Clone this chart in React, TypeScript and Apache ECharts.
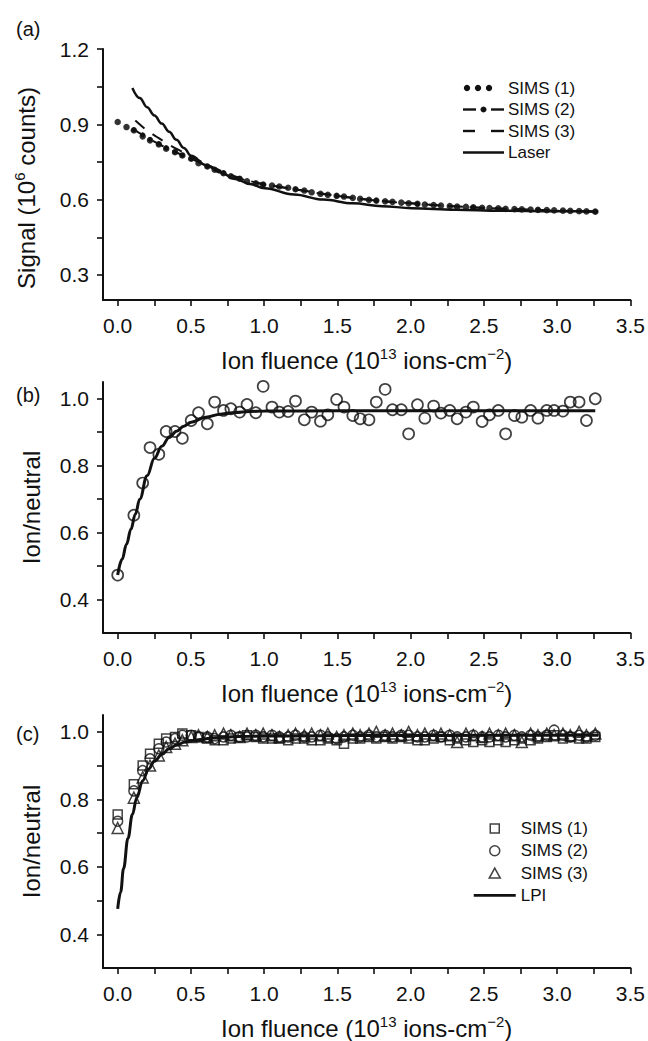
import React, { useEffect, useRef } from 'react';
import * as echarts from 'echarts';

const FONT = "'Liberation Sans', Arial, Helvetica, sans-serif";
const INK = '#111111';

// ---------- Panel (a) ----------
const fluenceA = [0.00, 0.06, 0.11, 0.17, 0.22, 0.28, 0.33, 0.39, 0.44, 0.50,
  0.55, 0.61, 0.66, 0.72, 0.77, 0.83, 0.88, 0.94, 0.99, 1.05,
  1.10, 1.16, 1.21, 1.27, 1.32, 1.38, 1.43, 1.49, 1.54, 1.60,
  1.65, 1.71, 1.76, 1.82, 1.87, 1.93, 1.98, 2.04, 2.09, 2.15,
  2.20, 2.26, 2.31, 2.37, 2.42, 2.48, 2.53, 2.59, 2.64, 2.70,
  2.75, 2.81, 2.86, 2.92, 2.97, 3.03, 3.08, 3.14, 3.19, 3.25];
const sims1A = [0.909, 0.889, 0.876, 0.852, 0.836, 0.820, 0.803, 0.789, 0.776, 0.763,
  0.745, 0.732, 0.719, 0.705, 0.693, 0.683, 0.673, 0.665, 0.660, 0.656,
  0.652, 0.647, 0.641, 0.636, 0.629, 0.623, 0.619, 0.615, 0.612, 0.607,
  0.603, 0.599, 0.596, 0.593, 0.591, 0.588, 0.585, 0.583, 0.580, 0.578,
  0.576, 0.574, 0.572, 0.571, 0.569, 0.567, 0.566, 0.565, 0.563, 0.562,
  0.561, 0.560, 0.559, 0.558, 0.557, 0.556, 0.555, 0.554, 0.553, 0.552];
const sims2AX = [0.11, 0.17, 0.22, 0.28, 0.33, 0.39, 0.44, 0.50, 0.61, 0.72, 0.83, 0.99, 1.21, 1.49, 1.76, 2.04, 2.42, 2.86, 3.25];
const sims2AY = [0.878, 0.858, 0.840, 0.822, 0.806, 0.790, 0.777, 0.763, 0.733, 0.706, 0.684, 0.660, 0.641, 0.615, 0.596, 0.583, 0.569, 0.559, 0.552];
const sims3AX = [0.12, 0.20, 0.28, 0.36, 0.44, 0.52, 0.60, 0.70, 0.80, 0.90, 1.00, 1.20, 1.40, 1.60, 1.80, 2.00, 2.30, 2.60, 3.00, 3.25];
const sims3AY = [0.915, 0.875, 0.845, 0.815, 0.790, 0.765, 0.742, 0.715, 0.692, 0.674, 0.661, 0.642, 0.622, 0.607, 0.594, 0.585, 0.573, 0.564, 0.556, 0.552];
const laserX = [0.10, 0.15, 0.20, 0.25, 0.30, 0.35, 0.40, 0.45, 0.50, 0.60, 0.70, 0.80, 0.90, 1.00, 1.20, 1.40, 1.60, 1.80, 2.00, 2.30, 2.60, 3.00, 3.27];
const laserY = [1.045, 1.005, 0.968, 0.935, 0.903, 0.870, 0.838, 0.806, 0.775, 0.738, 0.708, 0.682, 0.662, 0.645, 0.620, 0.600, 0.585, 0.574, 0.566, 0.560, 0.556, 0.554, 0.553];

// ---------- Panels (b) and (c) ----------
const fluenceBC = [0.00, 0.11, 0.17, 0.22, 0.28, 0.33, 0.39, 0.44, 0.50,
  0.55, 0.61, 0.66, 0.72, 0.77, 0.83, 0.88, 0.94, 0.99,
  1.05, 1.10, 1.16, 1.21, 1.27, 1.32, 1.38, 1.43, 1.49,
  1.54, 1.60, 1.65, 1.71, 1.76, 1.82, 1.87, 1.93, 1.98,
  2.04, 2.09, 2.15, 2.20, 2.26, 2.31, 2.37, 2.42, 2.48,
  2.53, 2.59, 2.64, 2.70, 2.75, 2.81, 2.86, 2.92, 2.97,
  3.03, 3.08, 3.14, 3.19, 3.25];
const ionNeutralB = [0.473, 0.652, 0.748, 0.854, 0.834, 0.902, 0.902, 0.882, 0.935,
  0.958, 0.925, 0.990, 0.965, 0.970, 0.960, 0.983, 0.958, 1.037,
  0.975, 0.960, 0.962, 0.993, 0.937, 0.960, 0.933, 0.952, 0.998,
  0.975, 0.950, 0.940, 0.937, 0.990, 1.028, 0.967, 0.967, 0.895,
  0.982, 0.942, 0.978, 0.957, 0.965, 0.940, 0.960, 0.975, 0.932,
  0.952, 0.965, 0.895, 0.950, 0.945, 0.965, 0.942, 0.965, 0.965,
  0.963, 0.990, 0.990, 0.935, 1.000];
const fitBX = [0, 0.03, 0.06, 0.09, 0.12, 0.15, 0.20, 0.25, 0.30, 0.35, 0.40, 0.45, 0.50, 0.60, 0.70, 0.80, 0.90, 1.00, 1.50, 2.00, 2.50, 3.00, 3.25];
const fitBY = [0.473, 0.520, 0.565, 0.610, 0.655, 0.700, 0.770, 0.822, 0.858, 0.884, 0.903, 0.918, 0.930, 0.945, 0.954, 0.959, 0.962, 0.963, 0.964, 0.964, 0.964, 0.964, 0.964];

const sims1C = [0.755, 0.845, 0.900, 0.935, 0.965, 0.980, 0.985, 0.995, 0.990,
  0.985, 0.980, 0.975, 0.975, 0.980, 0.985, 0.990, 0.985, 0.980,
  0.980, 0.980, 0.975, 0.980, 0.980, 0.975, 0.975, 0.980, 0.975,
  0.965, 0.980, 0.980, 0.985, 0.980, 0.985, 0.980, 0.985, 0.980,
  0.975, 0.975, 0.980, 0.985, 0.975, 0.980, 0.975, 0.970, 0.975,
  0.970, 0.975, 0.970, 0.975, 0.980, 0.975, 0.980, 0.985, 0.990,
  0.980, 0.985, 0.980, 0.980, 0.985];
const sims2C = [0.735, 0.825, 0.885, 0.920, 0.950, 0.970, 0.980, 0.990, 0.990,
  0.985, 0.985, 0.980, 0.985, 0.990, 0.985, 0.985, 0.990, 0.985,
  0.990, 0.985, 0.985, 0.990, 0.985, 0.985, 0.990, 0.985, 0.980,
  0.985, 0.990, 0.985, 0.990, 0.985, 0.990, 0.985, 0.990, 0.990,
  0.985, 0.985, 0.990, 0.985, 0.990, 0.985, 0.985, 0.990, 0.985,
  0.985, 0.990, 0.985, 0.990, 0.985, 0.990, 0.985, 0.990, 1.005,
  0.990, 0.985, 0.990, 0.985, 0.990];
const sims3C = [0.715, 0.805, 0.865, 0.900, 0.930, 0.955, 0.965, 0.975, 0.985,
  0.990, 0.985, 0.990, 0.995, 0.990, 0.985, 0.995, 0.990, 0.995,
  0.990, 0.985, 0.990, 0.995, 0.990, 0.995, 0.990, 0.995, 0.985,
  0.990, 0.995, 0.990, 0.995, 1.000, 0.990, 0.995, 0.990, 1.000,
  0.990, 0.995, 0.990, 0.995, 0.990, 0.970, 0.995, 0.990, 0.985,
  0.995, 0.990, 0.995, 0.990, 0.970, 0.995, 0.990, 0.995, 0.990,
  0.995, 0.990, 1.000, 0.990, 0.995];
const lpiX = [0, 0.02, 0.04, 0.07, 0.10, 0.13, 0.17, 0.21, 0.25, 0.30, 0.35, 0.40, 0.46, 0.55, 0.65, 0.75, 0.90, 1.20, 1.60, 2.00, 2.50, 3.00, 3.27];
const lpiY = [0.475, 0.525, 0.595, 0.685, 0.755, 0.805, 0.855, 0.890, 0.913, 0.933, 0.950, 0.961, 0.970, 0.977, 0.982, 0.985, 0.987, 0.988, 0.989, 0.989, 0.990, 0.990, 0.990];

// ---------- Ticks ----------
const xLabelValues = [0, 0.5, 1.0, 1.5, 2.0, 2.5, 3.0, 3.5];
const xTickValues = [0, 0.25, 0.5, 0.75, 1.0, 1.25, 1.5, 1.75, 2.0, 2.25, 2.5, 2.75, 3.0, 3.25, 3.5];
const yLabelsA = [0.3, 0.6, 0.9, 1.2];
const yTicksA = [0.3, 0.45, 0.6, 0.75, 0.9, 1.05, 1.2];
const yLabelsBC = [0.4, 0.6, 0.8, 1.0];
const yTicksBC = [0.4, 0.5, 0.6, 0.7, 0.8, 0.9, 1.0];

const legendNamesA = ['SIMS (1)', 'SIMS (2)', 'SIMS (3)', 'Laser'];

const zip = (xs: number[], ys: number[]) => xs.map((x, i) => [x, ys[i]]);

const richName = {
  a: { fontSize: 24, fontFamily: FONT, color: INK, lineHeight: 28 },
  s: { fontSize: 15, fontFamily: FONT, color: INK, verticalAlign: 'top' },
  p: { fontSize: 24, width: 27 },
};

const xAxisOpt = () => ({
  type: 'value',
  min: -0.1,
  max: 3.5,
  axisLine: { show: true, onZero: false, lineStyle: { color: INK, width: 2 } },
  axisTick: { show: true, length: 6, lineStyle: { color: INK, width: 1.6 }, customValues: xTickValues },
  axisLabel: { customValues: xLabelValues, formatter: (v: number) => v.toFixed(1), margin: 15, fontSize: 21, color: INK, fontFamily: FONT },
  splitLine: { show: false },
  name: '{a|Ion fluence (10}{s|13}{a| ions-cm}{s|−2}{a|)}',
  nameLocation: 'middle',
  nameGap: 46,
  nameTextStyle: { rich: richName },
});

const yAxisOpt = (min: number, max: number, labels: number[], ticks: number[], name: string, nameGap: number) => ({
  type: 'value',
  min,
  max,
  axisLine: { show: true, onZero: false, lineStyle: { color: INK, width: 2 } },
  axisTick: { show: true, length: 6, lineStyle: { color: INK, width: 1.6 }, customValues: ticks },
  axisLabel: { customValues: labels, formatter: (v: number) => v.toFixed(1), margin: 14, fontSize: 21, color: INK, fontFamily: FONT },
  splitLine: { show: false },
  name,
  nameLocation: 'middle',
  nameGap,
  nameTextStyle: { rich: richName },
});

const gridA = { left: 103, top: 49, width: 529, height: 251 };
const gridB = { left: 103, top: 382, width: 529, height: 251 };
const gridC = { left: 103, top: 715, width: 529, height: 253 };
const yA = yAxisOpt(0.2, 1.2, yLabelsA, yTicksA, '{a|Signal (10}{s|6}{a| counts)}{p| }', 63);
const yB = yAxisOpt(0.3, 1.05, yLabelsBC, yTicksBC, '{a|Ion/neutral}', 58);
const yC = yAxisOpt(0.3, 1.05, yLabelsBC, yTicksBC, '{a|Ion/neutral}', 58);

// axes-only layer for a panel
const axesLayer = (grid: any, yAxis: any) => ({
  animation: false,
  grid: [grid],
  xAxis: [xAxisOpt()],
  yAxis: [yAxis],
  series: [{ type: 'scatter', data: [] }],
});
// data layer: same scales, axes hidden
const dataAxes = (grid: any, yAxis: any) => ({
  grid: [grid],
  xAxis: [{ ...xAxisOpt(), show: false }],
  yAxis: [{ ...yAxis, show: false }],
});

const hollow = { color: 'rgba(0,0,0,0)', borderColor: INK, borderWidth: 1.5 };
const labelFont = { fontSize: 20, fontWeight: 'normal', color: INK, fontFamily: FONT };

// legend of panel (a), drawn as graphic glyphs
const legTextX = 508;
const legRowsA = [88, 109.5, 131, 152.5];
const legText = (i: number) => ({
  type: 'text', x: legTextX, y: legRowsA[i],
  style: { text: legendNamesA[i], fontSize: 17, fontFamily: FONT, fill: INK, verticalAlign: 'middle', align: 'left' },
});
const legendA = [
  { type: 'circle', shape: { cx: 467, cy: legRowsA[0], r: 3.2 }, style: { fill: INK } },
  { type: 'circle', shape: { cx: 478, cy: legRowsA[0], r: 3.2 }, style: { fill: INK } },
  { type: 'circle', shape: { cx: 489, cy: legRowsA[0], r: 3.2 }, style: { fill: INK } },
  legText(0),
  { type: 'rect', shape: { x: 463, y: legRowsA[1] - 1.2, width: 13, height: 2.4 }, style: { fill: INK } },
  { type: 'circle', shape: { cx: 483.5, cy: legRowsA[1], r: 3 }, style: { fill: INK } },
  { type: 'rect', shape: { x: 491, y: legRowsA[1] - 1.2, width: 13, height: 2.4 }, style: { fill: INK } },
  legText(1),
  { type: 'rect', shape: { x: 463, y: legRowsA[2] - 1.2, width: 12, height: 2.4 }, style: { fill: INK } },
  { type: 'rect', shape: { x: 491, y: legRowsA[2] - 1.2, width: 13, height: 2.4 }, style: { fill: INK } },
  legText(2),
  { type: 'rect', shape: { x: 463, y: legRowsA[3] - 1.3, width: 41, height: 2.6 }, style: { fill: INK } },
  legText(3),
];

const optionA = {
  animation: false,
  title: [{ text: '(a)', left: 11, top: 14, textStyle: labelFont }],
  ...dataAxes(gridA, yA),
  graphic: legendA,
  series: [
    { name: 'SIMS (3)', type: 'line', data: zip(sims3AX, sims3AY), symbol: 'none', smooth: 0.3,
      lineStyle: { color: INK, width: 2, type: [12, 10] }, itemStyle: { color: INK } },
    { name: 'SIMS (2)', type: 'line', data: zip(sims2AX, sims2AY), symbol: 'circle', symbolSize: 5, showSymbol: true, smooth: 0.3,
      lineStyle: { color: INK, width: 2, type: [12, 10] }, itemStyle: { color: INK } },
    { name: 'Laser', type: 'line', data: zip(laserX, laserY), symbol: 'none', smooth: 0.4, smoothMonotone: 'x',
      lineStyle: { color: INK, width: 2.5 }, itemStyle: { color: INK } },
    { name: 'SIMS (1)', type: 'scatter', data: zip(fluenceA, sims1A), symbol: 'circle', symbolSize: 6.5,
      itemStyle: { color: '#000' } },
  ],
};

const optionB = {
  animation: false,
  title: [{ text: '(b)', left: 11, top: 380, textStyle: labelFont }],
  ...dataAxes(gridB, yB),
  series: [
    { name: 'Ion/neutral', type: 'scatter', data: zip(fluenceBC, ionNeutralB), symbol: 'circle', symbolSize: 11,
      itemStyle: { ...hollow, borderWidth: 1.7 } },
    { name: 'Fit', type: 'line', data: zip(fitBX, fitBY), symbol: 'none', smooth: 0.4, smoothMonotone: 'x',
      lineStyle: { color: INK, width: 3 }, itemStyle: { color: INK } },
  ],
};

const squareIcon = 'path://M0,0 M42,10 M16.5,0.5 L25.5,0.5 L25.5,9.5 L16.5,9.5 Z';
const circleIcon = 'path://M0,0 M42,10 M16,5 A5,5 0 1,0 26,5 A5,5 0 1,0 16,5 Z';
const triangleIcon = 'path://M0,0 M42,10 M21,0 L26.5,10 L15.5,10 Z';
const lineIconC = 'path://M0,0 M42,10 M0,3.6 L42,3.6 L42,6.4 L0,6.4 Z';
const hollowLegend = { color: 'rgba(0,0,0,0)', borderColor: INK, borderWidth: 1.5 };

const optionC = {
  animation: false,
  title: [{ text: '(c)', left: 11, top: 719, textStyle: labelFont }],
  ...dataAxes(gridC, yC),
  legend: {
    orient: 'vertical', left: 468, top: 815, itemWidth: 42, itemHeight: 10, itemGap: 5.3,
    selectedMode: false,
    textStyle: { fontSize: 17, lineHeight: 16, color: INK, fontFamily: FONT },
    data: [
      { name: 'SIMS (1)', icon: squareIcon, itemStyle: hollowLegend },
      { name: 'SIMS (2)', icon: circleIcon, itemStyle: hollowLegend },
      { name: 'SIMS (3)', icon: triangleIcon, itemStyle: hollowLegend },
      { name: 'LPI', icon: lineIconC, itemStyle: { color: INK, borderWidth: 0 } },
    ],
  },
  series: [
    { name: 'LPI', type: 'line', data: zip(lpiX, lpiY), symbol: 'none', smooth: 0.4, smoothMonotone: 'x',
      lineStyle: { color: INK, width: 3 }, itemStyle: { color: INK } },
    { name: 'SIMS (3)', type: 'scatter', data: zip(fluenceBC, sims3C), symbol: 'triangle', symbolSize: 11, itemStyle: hollow },
    { name: 'SIMS (2)', type: 'scatter', data: zip(fluenceBC, sims2C), symbol: 'circle', symbolSize: 10, itemStyle: hollow },
    { name: 'SIMS (1)', type: 'scatter', data: zip(fluenceBC, sims1C), symbol: 'rect', symbolSize: 9, itemStyle: hollow },
  ],
};

const layer: React.CSSProperties = { position: 'fixed', left: 0, top: 0, width: 648, height: 1041 };

export default function App() {
  const r1 = useRef<HTMLDivElement>(null);
  const r2 = useRef<HTMLDivElement>(null);
  const r3 = useRef<HTMLDivElement>(null);
  const r4 = useRef<HTMLDivElement>(null);
  const r5 = useRef<HTMLDivElement>(null);
  const r6 = useRef<HTMLDivElement>(null);
  useEffect(() => {
    const pairs: [React.RefObject<HTMLDivElement>, any][] = [
      [r1, axesLayer(gridA, yA)],
      [r2, axesLayer(gridB, yB)],
      [r3, axesLayer(gridC, yC)],
      [r4, optionA],
      [r5, optionB],
      [r6, optionC],
    ];
    const charts = pairs.map(([r, o]) => {
      const c = echarts.init(r.current as HTMLDivElement, null, { renderer: 'svg' });
      c.setOption(o);
      return c;
    });
    return () => charts.forEach((c) => c.dispose());
  }, []);
  return (
    <div style={{ ...layer, background: '#fff' }}>
      <div ref={r1} style={layer} />
      <div ref={r2} style={layer} />
      <div ref={r3} style={layer} />
      <div ref={r4} style={layer} />
      <div ref={r5} style={layer} />
      <div ref={r6} style={layer} />
    </div>
  );
}
